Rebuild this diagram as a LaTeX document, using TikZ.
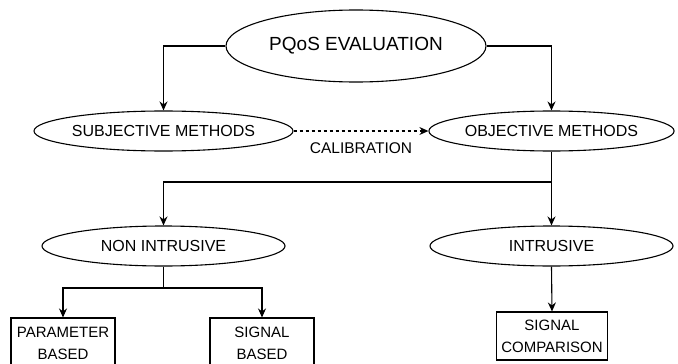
\documentclass[tikz,border=0pt]{standalone}
\usepackage{fontspec}
\setmainfont{Liberation Sans}
\usetikzlibrary{shapes.geometric,arrows.meta}

\begin{document}
\begin{tikzpicture}[
x=1pt, y=-1pt,
root/.style={ellipse, draw=black, line width=1.1pt, minimum width=260pt, minimum height=72pt, inner sep=0pt, font=\fontsize{19}{23}\selectfont},
method/.style={ellipse, draw=black, line width=1.1pt, minimum width=243pt, minimum height=40pt, inner sep=0pt, font=\fontsize{16}{19}\selectfont},
leaf/.style={rectangle, draw=black, line width=1.1pt, align=center, inner sep=0pt, font=\fontsize{15}{22}\selectfont},
link/.style={draw=black, line width=1.1pt, -{Stealth[length=9pt,width=8pt]}},
]
\useasboundingbox (0,0) rectangle (678,364);

\node [root] (PQ) at (356,46) {PQoS EVALUATION};
\node [method] (SM) at (163.5,131) {SUBJECTIVE METHODS};
\node [method] (OM) at (551.5,131) {OBJECTIVE METHODS};
\node [method] (NI) at (163.5,246) {NON INTRUSIVE};
\node [method] (IN) at (551.5,246) {INTRUSIVE};
\node [leaf, minimum width=104pt, minimum height=51pt] (PB) at (63,343.5) {PARAMETER\\BASED};
\node [leaf, minimum width=104pt, minimum height=51pt] (SB) at (262,343.5) {SIGNAL\\BASED};
\node [leaf, minimum width=111pt, minimum height=48pt] (SC) at (552,336) {SIGNAL\\COMPARISON};

\coordinate (J1) at (551.5,182);
\coordinate (J2) at (163.5,288);

\draw [link] (PQ.west) -| (SM.north);
\draw [link] (PQ.east) -| (OM.north);
\draw [link, dash pattern=on 3pt off 3pt] (SM.east) -- (OM.west)
  node [midway, below=8pt, font=\fontsize{15.5}{18}\selectfont] (CAL) {CALIBRATION};

\draw [line width=1.1pt] (OM.south) -- (J1);
\draw [link] (J1) -| (NI.north);
\draw [link] (J1) -- (IN.north);

\draw [line width=1.1pt] (NI.south) -- (J2);
\draw [link] (J2) -| (PB.north);
\draw [link] (J2) -| (SB.north);
\draw [link] (IN.south) -- (SC.north);
\end{tikzpicture}
\end{document}
